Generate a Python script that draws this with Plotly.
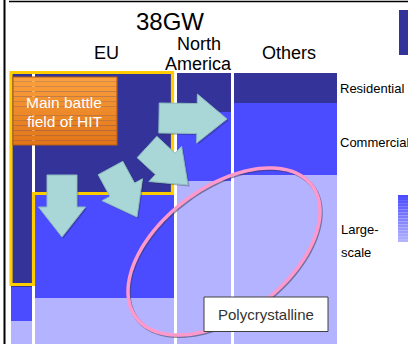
import math
import plotly.graph_objects as go

# ---------------- data ----------------
regions = ["", "EU", "North America", "Others"]          # first narrow column has no visible label
market_gw = [2.8, 16.4, 6.6, 12.2]                         # column widths (total 38 GW)
residential = [79.0, 44.3, 14.4, 11.1]                     # share %, top segment
commercial = [12.5, 38.7, 25.5, 26.6]                      # share %, middle segment
large_scale = [8.5, 17.0, 60.1, 62.3]                      # share %, bottom segment
segment_names = ["Large-scale", "Commercial", "Residential"]
total_label = "38GW"

# ---------------- style ----------------
W, H = 408, 344
NAVY, BLUE, LAV = "#333399", "#4B4BFF", "#B3B3FF"
FONT = "Arial, Liberation Sans, sans-serif"
PX_PER_GW = 8.66
X0_PX = 9.5                     # pixel of x = 0
Y100_PX, Y0_PX = 73.0, 344.0    # pixels of 100 % and 0 %
GAP = 3.0 / PX_PER_GW

xmin = -X0_PX / PX_PER_GW
xmax = xmin + W / PX_PER_GW
py_per_pct = (Y0_PX - Y100_PX) / 100.0
ymax = Y0_PX / py_per_pct

# column positions from cumulative widths
lefts, acc = [], 0.0
for w in market_gw:
    lefts.append(acc)
    acc += w
centers = [l + w / 2 for l, w in zip(lefts, market_gw)]
widths = [w - GAP for w in market_gw]

fig = go.Figure()
for name, vals, col in zip(segment_names, [large_scale, commercial, residential], [LAV, BLUE, NAVY]):
    fig.add_trace(go.Bar(x=centers, y=vals, width=widths, name=name,
                         marker=dict(color=col, line=dict(width=0)),
                         hoverinfo="skip", showlegend=False))


def P(px, py):
    return px / W, 1 - py / H


def path_from(pts, close=True):
    s = ""
    for i, (px, py) in enumerate(pts):
        x, y = P(px, py)
        s += ("M" if i == 0 else "L") + f"{x:.5f},{y:.5f} "
    return s + ("Z" if close else "")


shapes = []

# frame lines
shapes.append(dict(type="line", xref="paper", yref="paper", x0=P(4.5, 0)[0], x1=P(4.5, 0)[0],
                   y0=0, y1=1, line=dict(color="black", width=2)))
shapes.append(dict(type="line", xref="paper", yref="paper", x0=P(9, 0)[0], x1=1,
                   y0=P(0, 1.5)[1], y1=P(0, 1.5)[1], line=dict(color="black", width=1.5)))

# yellow outline
yellow = [(11, 72.5), (172.5, 72.5), (172.5, 193.5), (33.5, 193.5), (33.5, 284.5), (11, 284.5)]
shapes.append(dict(type="path", xref="paper", yref="paper", path=path_from(yellow),
                   line=dict(color="#FFCC00", width=3.2), fillcolor="rgba(0,0,0,0)"))

# orange box with vertical gradient
ox0, oy0, ox1, oy1 = 13, 77, 117, 145
n = 14
c_top, c_bot = (250, 160, 60), (226, 118, 24)
for i in range(n):
    t = i / (n - 1)
    c = tuple(int(a + (b - a) * t) for a, b in zip(c_top, c_bot))
    ya = oy0 + (oy1 - oy0) * i / n
    yb = oy0 + (oy1 - oy0) * (i + 1) / n
    shapes.append(dict(type="rect", xref="paper", yref="paper",
                       x0=P(ox0, 0)[0], x1=P(ox1, 0)[0], y0=P(0, yb)[1], y1=P(0, ya)[1],
                       line=dict(width=0), fillcolor=f"rgb{c}"))
shapes.append(dict(type="rect", xref="paper", yref="paper",
                   x0=P(ox0, 0)[0], x1=P(ox1, 0)[0], y0=P(0, oy1)[1], y1=P(0, oy0)[1],
                   line=dict(color="#B85E14", width=1.2), fillcolor="rgba(0,0,0,0)"))


def arrow(tail, tip, bw, hw, hl):
    dx, dy = tip[0] - tail[0], tip[1] - tail[1]
    L = math.hypot(dx, dy)
    ux, uy = dx / L, dy / L
    nx, ny = -uy, ux
    bx, by = tip[0] - ux * hl, tip[1] - uy * hl
    return [(tail[0] + nx * bw / 2, tail[1] + ny * bw / 2),
            (bx + nx * bw / 2, by + ny * bw / 2),
            (bx + nx * hw / 2, by + ny * hw / 2),
            tip,
            (bx - nx * hw / 2, by - ny * hw / 2),
            (bx - nx * bw / 2, by - ny * bw / 2),
            (tail[0] - nx * bw / 2, tail[1] - ny * bw / 2)]


arrows = [
    arrow((159, 118), (227, 119), 30, 49, 30),
    arrow((147, 147), (188, 185), 29, 48, 31),
    arrow((110.5, 168), (137, 217), 28, 46, 31),
    arrow((62, 175), (62, 237), 30, 47, 30),
]
for pts in arrows:
    sh = [(x + 1.5, y + 1.5) for x, y in pts]
    shapes.append(dict(type="path", xref="paper", yref="paper", path=path_from(sh),
                       line=dict(width=0), fillcolor="rgba(40,40,60,0.35)"))
    shapes.append(dict(type="path", xref="paper", yref="paper", path=path_from(pts),
                       line=dict(color="#8DBCBE", width=1), fillcolor="#A9D7D8"))

# pink ellipse
cx, cy, a, b, th = 224, 251.5, 110, 64, math.radians(36.9)
ell = []
for k in range(121):
    t = 2 * math.pi * k / 120
    ex = cx + a * math.cos(th) * math.cos(t) - b * math.sin(th) * math.sin(t)
    ey = cy - a * math.sin(th) * math.cos(t) - b * math.cos(th) * math.sin(t)
    ell.append((ex, ey))
shapes.append(dict(type="path", xref="paper", yref="paper",
                   path=path_from([(x + 1, y + 1.2) for x, y in ell], close=False),
                   line=dict(color="rgba(60,60,90,0.55)", width=3.5), fillcolor="rgba(0,0,0,0)"))
shapes.append(dict(type="path", xref="paper", yref="paper", path=path_from(ell, close=False),
                   line=dict(color="#FF99CC", width=3.5), fillcolor="rgba(0,0,0,0)"))

# Polycrystalline box
shapes.append(dict(type="rect", xref="paper", yref="paper",
                   x0=P(204, 0)[0], x1=P(328, 0)[0], y0=P(0, 331.5)[1], y1=P(0, 297)[1],
                   line=dict(color="#404040", width=1), fillcolor="white"))

# legend swatches at the right edge
shapes.append(dict(type="rect", xref="paper", yref="paper",
                   x0=P(399, 0)[0], x1=1.01, y0=P(0, 55)[1], y1=P(0, 10)[1],
                   line=dict(width=0), fillcolor=NAVY))
n = 16
g_top, g_bot = (75, 75, 255), (179, 179, 255)
for i in range(n):
    t = i / (n - 1)
    c = tuple(int(p + (q - p) * t) for p, q in zip(g_top, g_bot))
    ya = 195 + 47 * i / n
    yb = 195 + 47 * (i + 1) / n
    shapes.append(dict(type="rect", xref="paper", yref="paper",
                       x0=P(398, 0)[0], x1=1.01, y0=P(0, yb)[1], y1=P(0, ya)[1],
                       line=dict(width=0), fillcolor=f"rgb{c}"))

annotations = []


def txt(text, px, py, size, color="black", xanchor="center"):
    x, y = P(px, py)
    annotations.append(dict(text=text, x=x, y=y, xref="paper", yref="paper", showarrow=False,
                            xanchor=xanchor, yanchor="middle",
                            font=dict(family=FONT, size=size, color=color)))


txt(total_label, 170, 21, 24)
txt(regions[1], 106.5, 53.5, 18)
txt("North", 198.5, 44, 18)
txt("America", 198.5, 64, 18)
txt(regions[3], 289, 53.5, 18)
txt("Main battle", 64, 103, 15.5, "white")
txt("field of HIT", 64, 122, 15.5, "white")
txt("Polycrystalline", 266, 314.5, 15, "#333333")
txt("Residential", 338, 88, 13, xanchor="left")
txt("Commercial", 338, 142, 13, xanchor="left")
txt("Large-", 339, 229, 13, xanchor="left")
txt("scale", 339, 252, 13, xanchor="left")

fig.update_layout(
    width=W, height=H, margin=dict(l=0, r=0, t=0, b=0),
    paper_bgcolor="white", plot_bgcolor="white",
    barmode="stack", bargap=0, showlegend=False, hovermode=False,
    xaxis=dict(range=[xmin, xmax], visible=False, showgrid=False, zeroline=False, fixedrange=True),
    yaxis=dict(range=[0, ymax], visible=False, showgrid=False, zeroline=False, fixedrange=True),
    shapes=shapes, annotations=annotations,
)

fig.write_html("out.html", config={"displayModeBar": False, "staticPlot": True})
